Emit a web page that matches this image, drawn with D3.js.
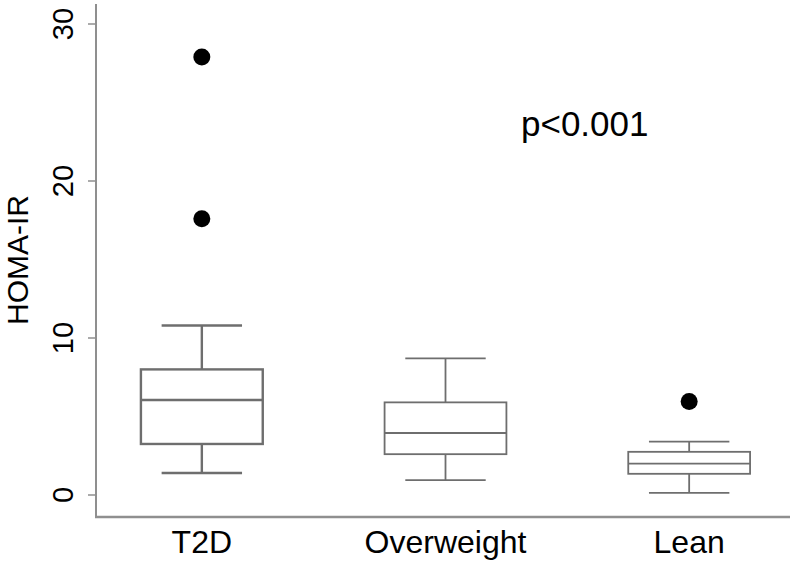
<!DOCTYPE html>
<html>
<head>
<meta charset="utf-8">
<script src="https://cdn.jsdelivr.net/npm/d3@7"></script>
<style>
  html, body { margin: 0; padding: 0; background: #fff; }
  svg { display: block; }
  text { font-family: "Liberation Sans", Arial, Helvetica, sans-serif; fill: #000; }
</style>
</head>
<body>
<svg id="chart" width="800" height="567"></svg>
<script>
// ---- data ----
const categories = ["T2D", "Overweight", "Lean"];
const lowerWhisker = [1.4, 0.95, 0.13];
const q1 = [3.25, 2.6, 1.35];
const medians = [6.05, 3.95, 2.0];
const q3 = [8.0, 5.9, 2.75];
const upperWhisker = [10.8, 8.7, 3.4];
const outlierGroups = ["T2D", "T2D", "Lean"];
const outlierValues = [27.9, 17.6, 5.95];
const yTicks = [0, 10, 20, 30];
const yLabel = "HOMA-IR";
const annotation = "p<0.001";

const svg = d3.select("#chart");

const x = d3.scaleBand().domain(categories).range([80, 811])
  .paddingInner(0.5).paddingOuter(0.25);
const y = d3.scaleLinear().domain([0, 30]).range([495, 24]);

const axisColor = "#8f8f8f";
const boxColor = "#6e6e6e";

// axes lines
svg.append("line").attr("x1", 96).attr("x2", 96).attr("y1", 4).attr("y2", 518)
  .attr("stroke", axisColor).attr("stroke-width", 2);
svg.append("line").attr("x1", 95).attr("x2", 790).attr("y1", 517).attr("y2", 517)
  .attr("stroke", axisColor).attr("stroke-width", 2.5);

// y ticks
const yt = svg.append("g");
yt.selectAll("line").data(yTicks).join("line")
  .attr("x1", 88).attr("x2", 96)
  .attr("y1", d => y(d)).attr("y2", d => y(d))
  .attr("stroke", axisColor).attr("stroke-width", 1.5);
yt.selectAll("text").data(yTicks).join("text")
  .attr("transform", d => `translate(73,${y(d)}) rotate(-90)`)
  .attr("text-anchor", "middle")
  .style("font-size", "29px")
  .text(d => d);

// y label
svg.append("text")
  .attr("transform", "translate(28,260) rotate(-90)")
  .attr("text-anchor", "middle")
  .style("font-size", "30px")
  .text(yLabel);

// x labels
svg.append("g").selectAll("text").data(categories).join("text")
  .attr("x", d => x(d) + x.bandwidth() / 2)
  .attr("y", 553)
  .attr("text-anchor", "middle")
  .style("font-size", "32px")
  .text(d => d);

// boxes
const capHalf = x.bandwidth() * 0.33;
categories.forEach((c, i) => {
  const cx = x(c) + x.bandwidth() / 2;
  const sw = i === 0 ? 2.4 : 1.8;
  const g = svg.append("g").attr("stroke", boxColor).attr("stroke-width", sw).attr("fill", "none");
  // whiskers
  g.append("line").attr("x1", cx).attr("x2", cx).attr("y1", y(upperWhisker[i])).attr("y2", y(q3[i]));
  g.append("line").attr("x1", cx).attr("x2", cx).attr("y1", y(q1[i])).attr("y2", y(lowerWhisker[i]));
  g.append("line").attr("x1", cx - capHalf).attr("x2", cx + capHalf)
    .attr("y1", y(upperWhisker[i])).attr("y2", y(upperWhisker[i]));
  g.append("line").attr("x1", cx - capHalf).attr("x2", cx + capHalf)
    .attr("y1", y(lowerWhisker[i])).attr("y2", y(lowerWhisker[i]));
  // box
  g.append("rect").attr("x", x(c)).attr("width", x.bandwidth())
    .attr("y", y(q3[i])).attr("height", y(q1[i]) - y(q3[i]));
  // median
  g.append("line").attr("x1", x(c)).attr("x2", x(c) + x.bandwidth())
    .attr("y1", y(medians[i])).attr("y2", y(medians[i]));
});

// outliers
svg.append("g").selectAll("circle").data(outlierValues).join("circle")
  .attr("cx", (d, i) => x(outlierGroups[i]) + x.bandwidth() / 2)
  .attr("cy", d => y(d))
  .attr("r", 8.5)
  .attr("fill", "#000");

// annotation
svg.append("text")
  .attr("x", 521).attr("y", 136)
  .style("font-size", "35px")
  .text(annotation);
</script>
</body>
</html>
